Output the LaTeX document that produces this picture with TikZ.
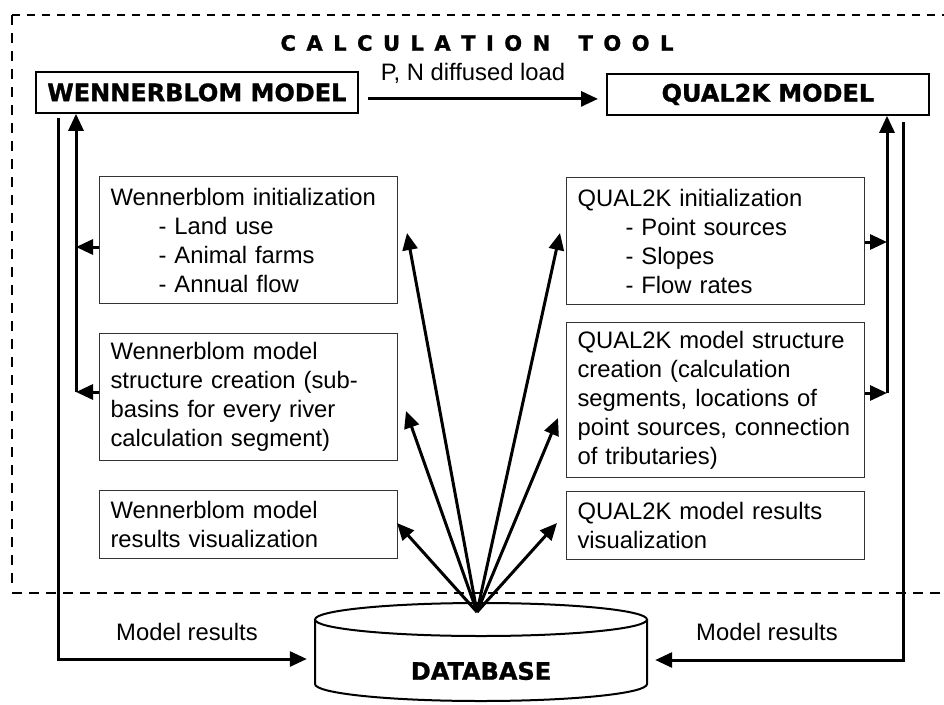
\documentclass[tikz,border=0pt]{standalone}
\usepackage{fontspec}
\setmainfont{Liberation Sans}
\newfontfamily\heavyfont{DejaVu Sans}[BoldFeatures={FakeBold=1.2}]
\usetikzlibrary{arrows.meta,calc}
\newcommand\ls{\kern10.5pt}
\begin{document}
\begin{tikzpicture}[x=1pt,y=-1pt,
  box/.style={draw=black!80, line width=1.1pt, anchor=north west, text width=276pt, align=left, inner xsep=11pt, inner ysep=0pt, font=\fontsize{23.8}{29}\selectfont},
  hdr/.style={draw, line width=1.8pt, anchor=north west, minimum width=322pt, minimum height=41pt, inner sep=0pt, font=\heavyfont\bfseries\fontsize{24}{28}\selectfont},
  lbl/.style={font=\fontsize{23.8}{29}\selectfont, inner sep=0pt},
  arr/.style={line width=3pt, -{Triangle[length=17pt,width=15pt]}},
  topframe/.style={dash pattern=on 8pt off 7pt, line width=2pt},
  sideframe/.style={dash pattern=on 10pt off 8pt, line width=1.2pt},
  botframe/.style={dash pattern=on 10pt off 7pt, line width=2.6pt}
]
\useasboundingbox (0,0) rectangle (944,704);

% frame of the calculation tool
\draw[topframe] (12,15) -- (944,15);
\draw[sideframe] (12,15) -- (12,588);
\draw[botframe] (12,593) -- (944,593);

% title
\node[font=\heavyfont\bfseries\fontsize{21}{24}\selectfont, inner sep=0pt] (title) at (477,43)
  {C\ls A\ls L\ls C\ls U\ls L\ls A\ls T\ls I\ls O\ls N\ls\ \ls T\ls O\ls O\ls L};

% model boxes
\node[hdr] (wm) at (35,71) {WENNERBLOM MODEL};
\node[hdr] (qm) at (606,73) {QUAL2K MODEL};

% P, N arrow
\coordinate (pnS) at ($(wm.east)+(9,6.5)$);
\draw[arr, shorten >=8pt] (pnS) -- (pnS -| qm.west);
\node[lbl, anchor=base] (pn) at (473,80) {P, N diffused load};

% left boxes
\node[box, minimum height=127pt] (wi) at (99,176)
  {Wennerblom initialization\\
   \hspace*{48pt}- Land use\\
   \hspace*{48pt}- Animal farms\\
   \hspace*{48pt}- Annual flow};
\node[box, minimum height=127pt] (ws) at (99,333)
  {Wennerblom model\\structure creation (sub-\\basins for every river\\calculation segment)};
\node[box, minimum height=68pt] (wr) at (99,490)
  {Wennerblom model\\results visualization};

% right boxes
\node[box, minimum height=127pt] (qi) at (566,177)
  {QUAL2K initialization\\
   \hspace*{48pt}- Point sources\\
   \hspace*{48pt}- Slopes\\
   \hspace*{48pt}- Flow rates};
\node[box, minimum height=155pt] (qs) at (566,322)
  {QUAL2K model structure\\creation (calculation\\segments, locations of\\point sources, connection\\of tributaries)};
\node[box, minimum height=68pt] (qr) at (566,491)
  {QUAL2K model results\\visualization};

% database
\node[minimum width=332pt, minimum height=100pt, inner sep=0pt] (db) at (481,653) {};
\draw[line width=2pt] (481,619.5) ellipse [x radius=166pt, y radius=16.5pt];
\draw[line width=2pt] (315,619.5) -- (315,684) arc[start angle=180, end angle=360, x radius=166pt, y radius=17pt] -- (647,619.5);
\node[font=\heavyfont\bfseries\fontsize{24}{28}\selectfont, inner sep=0pt] (dbl) at (481,671) {DATABASE};

% left collector lines
\coordinate (wlA) at (76,247);
\coordinate (wlB) at (76,392);
\draw[arr] (wlB) -- (wlB |- wm.south);
\draw[arr] (wi.west |- wlA) -- (wlA);
\draw[arr] (ws.west |- wlB) -- (wlB);

% right collector lines
\coordinate (qlA) at (887,242);
\coordinate (qlB) at (887,393);
\draw[arr] (qlB) -- (qlB |- qm.south);
\draw[arr] (qi.east |- qlA) -- (qlA);
\draw[arr] (qs.east |- qlB) -- (qlB);

% model results to database
\coordinate (wo1) at (58,118);
\coordinate (wo2) at (58,659);
\draw[arr, shorten >=8pt] (wo1) -- (wo2) -- (wo2 -| db.west);
\node[lbl] (mr1) at (187,632) {Model results};
\coordinate (qo1) at (903,122);
\coordinate (qo2) at (903,660);
\draw[arr, shorten >=8pt] (qo1) -- (qo2) -- (qo2 -| db.east);
\node[lbl] (mr2) at (767,632) {Model results};

% fan of arrows from the database
\coordinate (apex) at (477,612);
\coordinate (t1) at (407,233);
\coordinate (t2) at (406,411);
\coordinate (t3) at (397,523);
\coordinate (t4) at (560,233);
\coordinate (t5) at (558,418);
\coordinate (t6) at (557,523);
\foreach \t in {t1,t2,t3,t4,t5,t6} \draw[arr] (apex) -- (\t);
\end{tikzpicture}
\end{document}
